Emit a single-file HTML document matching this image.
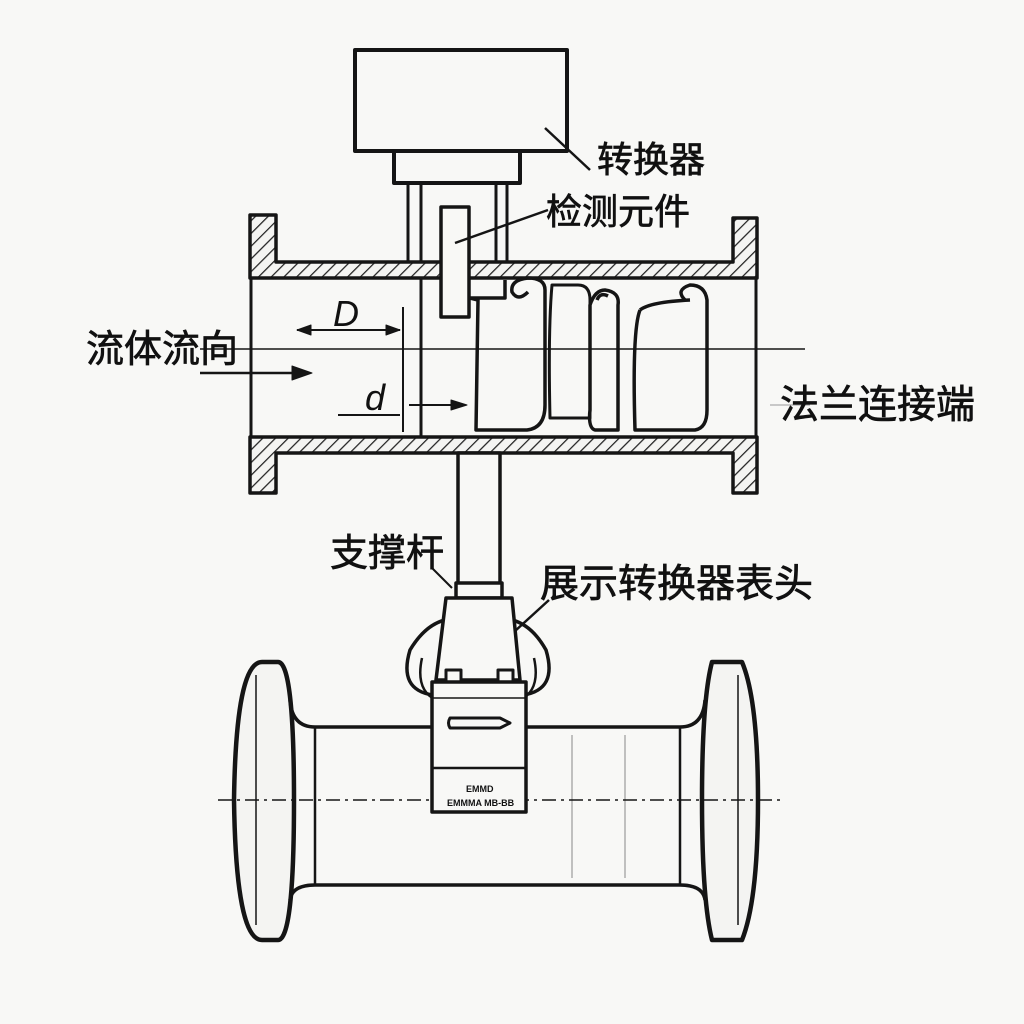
<!DOCTYPE html>
<html><head><meta charset="utf-8"><style>
html,body{margin:0;padding:0;background:#f8f8f6;}
svg{display:block}
text{font-family:"Liberation Sans","Noto Sans CJK SC",sans-serif;fill:#111}
.l{stroke:#111;stroke-width:0.7}
</style></head><body>
<svg width="1024" height="1024" viewBox="0 0 1024 1024" xmlns="http://www.w3.org/2000/svg">
<defs>
<pattern id="h" width="9" height="9" patternUnits="userSpaceOnUse" patternTransform="rotate(45)">
<rect width="9" height="9" fill="#f4f4f2"/><line x1="0" y1="0" x2="0" y2="9" stroke="#222" stroke-width="2.5"/>
</pattern>
</defs>
<g stroke="#151515" fill="none" stroke-width="4" stroke-linejoin="round">
<rect x="355" y="50" width="212" height="101" fill="#f8f8f6"/>
<rect x="394" y="151" width="126" height="32" fill="#f8f8f6"/>
<line x1="408" y1="183" x2="408" y2="264" stroke-width="3"/>
<line x1="421" y1="183" x2="421" y2="437" stroke-width="3"/>
<line x1="496" y1="183" x2="496" y2="264" stroke-width="3"/>
<line x1="507" y1="183" x2="507" y2="264" stroke-width="3"/>
<path d="M250 215 H276 V262 H733 V218 H757 V278 H250 Z" fill="url(#h)" stroke-width="3.5"/>
<path d="M250 437 H757 V493 H733 V453 H276 V493 H250 Z" fill="url(#h)" stroke-width="3.5"/>
<line x1="251" y1="278" x2="251" y2="437" stroke-width="3"/>
<line x1="756" y1="278" x2="756" y2="437" stroke-width="3"/>
<rect x="441" y="207" width="28" height="110" fill="#f8f8f6" stroke-width="3.5"/>
<path d="M470 298 H505 V280 M470 298 L478 300 L476 430 H527 Q545 428 545 405 V290 Q545 278 528 278 Q510 280 512 292 Q518 302 528 292" stroke-width="3.5"/>
<path d="M552 285 Q548 330 550 418 H590 V300 Q590 285 578 285 Z" stroke-width="3"/>
<path d="M590 305 Q595 290 605 290 Q620 292 618 305 V430 H595 Q588 428 590 410 Z M597 300 Q600 292 608 296" stroke-width="3.5"/>
<path d="M640 310 Q632 330 635 430 H695 Q707 428 707 410 V300 Q705 285 690 285 Q675 290 685 300 M640 310 Q650 302 690 300" stroke-width="3.5"/>
<line x1="200" y1="349" x2="805" y2="349" stroke-width="1.5"/>
<line x1="770" y1="405" x2="810" y2="405" stroke-width="1" stroke="#999"/>
<line x1="403" y1="307" x2="403" y2="432" stroke-width="2"/>
<line x1="297" y1="330" x2="400" y2="330" stroke-width="2"/>
<path d="M297 330 l14 -5 v10 Z M400 330 l-14 -5 v10 Z" fill="#151515" stroke-width="1"/>
<line x1="338" y1="415" x2="400" y2="415" stroke-width="2"/>
<line x1="409" y1="405" x2="465" y2="405" stroke-width="2"/>
<path d="M467 405 l-16 -5 v10 Z" fill="#151515" stroke-width="1"/>
<line x1="200" y1="373" x2="305" y2="373" stroke-width="2.5"/>
<path d="M312 373 l-20 -7 v14 Z" fill="#151515" stroke-width="1"/>
<line x1="545" y1="128" x2="590" y2="170" stroke-width="2.5"/>
<line x1="455" y1="243" x2="548" y2="210" stroke-width="2.5"/>
<line x1="432" y1="568" x2="452" y2="588" stroke-width="2"/>
<line x1="492" y1="652" x2="549" y2="600" stroke-width="2.5"/>
<rect x="458" y="453" width="42" height="132" fill="#f8f8f6" stroke-width="3.5"/>
<path d="M262 662 Q236 662 234 800 Q236 940 262 940 H278 Q294 940 294 800 Q294 662 278 662 Z" fill="#f4f4f2" stroke-width="4.5"/>
<path d="M712 662 Q702 700 702 800 Q702 900 712 940 H742 Q758 900 758 800 Q758 700 742 662 Z" fill="#f4f4f2" stroke-width="4.5"/>
<line x1="256" y1="675" x2="256" y2="925" stroke-width="1.5"/>
<line x1="738" y1="675" x2="738" y2="925" stroke-width="1.5"/>
<path d="M290 700 Q292 727 315 727 H680 Q703 727 705 700 M290 900 Q292 885 315 885 H680 Q703 885 705 900" stroke-width="3.5"/>
<line x1="315" y1="727" x2="315" y2="885" stroke-width="2.5"/>
<line x1="680" y1="727" x2="680" y2="885" stroke-width="2.5"/>
<line x1="572" y1="735" x2="572" y2="878" stroke-width="1" stroke="#888"/>
<line x1="625" y1="735" x2="625" y2="878" stroke-width="1" stroke="#888"/>
<line x1="218" y1="800" x2="780" y2="800" stroke-width="1.5" stroke-dasharray="14 5 3 5"/>
<path d="M433 695 Q398 690 410 650 Q425 625 445 620 M523 695 Q558 690 546 650 Q532 625 512 620" stroke-width="3.5"/>
<path d="M436 700 Q415 690 422 658 M520 700 Q541 690 534 658" stroke-width="2.5"/>
<rect x="456" y="583" width="46" height="15" fill="#f8f8f6" stroke-width="3.5"/>
<path d="M446 598 H512 L520 680 H436 Z" fill="#f8f8f6" stroke-width="3.5"/>
<rect x="446" y="670" width="15" height="12" stroke-width="3" fill="#f8f8f6"/>
<rect x="498" y="670" width="15" height="12" stroke-width="3" fill="#f8f8f6"/>
<rect x="432" y="682" width="94" height="130" fill="#f8f8f6" stroke-width="3.5"/>
<line x1="432" y1="698" x2="526" y2="698" stroke-width="1.5"/>
<line x1="432" y1="768" x2="526" y2="768" stroke-width="2.5"/>
<path d="M450 718 H500 L510 723 L500 728 H450 Q447 723 450 718 Z" stroke-width="3"/>
</g>
<text x="466" y="792" font-size="9" font-weight="bold">EMMD</text>
<text x="447" y="806" font-size="9" font-weight="bold">EMMMA MB-BB</text>
<g class="l">
<text x="597" y="172" font-size="36">转换器</text>
<text x="546" y="224" font-size="36">检测元件</text>
<text x="86" y="362" font-size="38">流体流向</text>
<text x="780" y="418" font-size="39">法兰连接端</text>
<text x="330" y="566" font-size="38">支撑杆</text>
<text x="540" y="597" font-size="39">展示转换器表头</text>
</g>
<text x="333" y="326" font-size="36" font-style="italic" font-family="Liberation Serif,serif">D</text>
<text x="365" y="410" font-size="36" font-style="italic" font-family="Liberation Serif,serif">d</text>
</svg>
</body></html>
